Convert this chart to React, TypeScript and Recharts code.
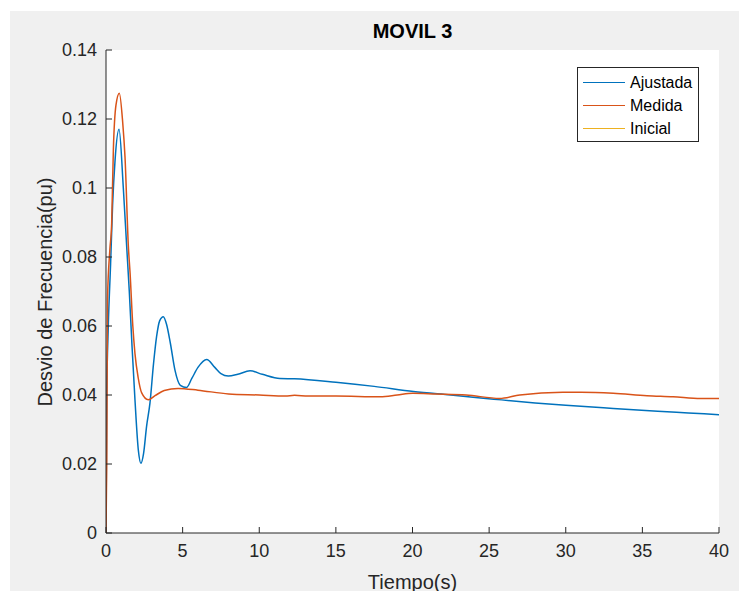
import React from "react";
import { LineChart, Line, XAxis, YAxis, CartesianGrid } from "recharts";

// ---- data ----
const TITLE = "MOVIL 3";
const X_LABEL = "Tiempo(s)";
const Y_LABEL = "Desvio de Frecuencia(pu)";
const X_TICKS = [0, 5, 10, 15, 20, 25, 30, 35, 40];
const Y_TICKS = [0, 0.02, 0.04, 0.06, 0.08, 0.1, 0.12, 0.14];

const SERIES_NAMES = ["Ajustada", "Medida", "Inicial"];
const SERIES_COLORS = ["#0072BD", "#D95319", "#EDB120"];

const TIME_AJUSTADA = [
  0, 0.05, 0.15, 0.3, 0.43, 0.59, 0.85, 1.13, 1.35, 1.52, 1.7, 1.89, 2.11, 2.28,
  2.45, 2.65, 2.87, 3.1, 3.3, 3.5, 3.74, 3.95, 4.2, 4.5, 4.85, 5.26, 5.6, 6.0,
  6.57, 7.1, 7.5, 7.98, 8.6, 9.4, 10.2, 11.35, 12.3, 15, 17.5, 20.06, 22.5,
  25.3, 28, 30, 33.1, 36, 38, 40,
];
const AJUSTADA = [
  0, 0.04, 0.06, 0.078, 0.095, 0.108, 0.117, 0.1, 0.083, 0.07, 0.054, 0.0386,
  0.024, 0.0202, 0.023, 0.031, 0.0377, 0.049, 0.0569, 0.0615, 0.0627, 0.0605,
  0.055, 0.0472, 0.0428, 0.0422, 0.0448, 0.048, 0.0503, 0.048, 0.0462, 0.0455,
  0.046, 0.047, 0.046, 0.0448, 0.0447, 0.0437, 0.0425, 0.041, 0.04, 0.0388,
  0.0377, 0.037, 0.0361, 0.0353, 0.0348, 0.0343,
];

const TIME_MEDIDA = [
  0, 0.05, 0.1, 0.25, 0.37, 0.48, 0.65, 0.87, 1.09, 1.24, 1.46, 1.57, 1.75,
  1.89, 2.1, 2.33, 2.76, 3.2, 3.8, 4.7, 6, 8, 10, 11.7, 12.3, 13.2, 15, 17.9,
  19, 20, 21.5, 23.5, 25.7, 27, 29.8, 31, 33.1, 35.3, 37, 38.8, 40,
];
const MEDIDA = [
  0, 0.021, 0.068, 0.082, 0.0898, 0.111, 0.124, 0.1275, 0.119, 0.109, 0.083,
  0.0754, 0.06, 0.052, 0.045, 0.0406, 0.0386, 0.0398, 0.0413, 0.0419, 0.0414,
  0.0403, 0.04, 0.0397, 0.0399, 0.0397, 0.0397, 0.0395, 0.04, 0.0405, 0.0403,
  0.04, 0.039, 0.04, 0.0408, 0.0408, 0.0405, 0.0398, 0.0395, 0.039, 0.039,
];

const TIME_INICIAL: number[] = [];
const INICIAL: number[] = [];

// ---- layout ----
const W = 739;
const H = 591;
const PLOT_LEFT = 106;
const PLOT_RIGHT = 719;
const PLOT_TOP = 50;
const PLOT_BOTTOM = 533;
const FONT = "'Liberation Sans', Arial, Helvetica, sans-serif";
const AXIS_COLOR = "#262626";

const toRows = (ts: number[], vs: number[]) => ts.map((t, i) => ({ t, v: vs[i] }));
const seriesData = [
  toRows(TIME_AJUSTADA, AJUSTADA),
  toRows(TIME_MEDIDA, MEDIDA),
  toRows(TIME_INICIAL, INICIAL),
];

const fmtY = (v: number) => String(Number(v.toFixed(2)));

const BottomTick = (props: any) => {
  const { x, y, payload } = props;
  return (
    <g>
      <line x1={x} x2={x} y1={y} y2={y - 6} stroke={AXIS_COLOR} strokeWidth={1} />
      <text x={x} y={y + 24} textAnchor="middle" fontSize={18} fontFamily={FONT} fill={AXIS_COLOR}>
        {payload.value}
      </text>
    </g>
  );
};
const TopTick = (props: any) => {
  const { x, y } = props;
  return <line x1={x} x2={x} y1={y} y2={y + 6} stroke={AXIS_COLOR} strokeWidth={1} />;
};
const LeftTick = (props: any) => {
  const { x, y, payload } = props;
  return (
    <g>
      <line x1={x} x2={x + 6} y1={y} y2={y} stroke={AXIS_COLOR} strokeWidth={1} />
      <text x={x - 9} y={y + 6} textAnchor="end" fontSize={18} fontFamily={FONT} fill={AXIS_COLOR}>
        {fmtY(payload.value)}
      </text>
    </g>
  );
};
const RightTick = (props: any) => {
  const { x, y } = props;
  return <line x1={x} x2={x - 6} y1={y} y2={y} stroke={AXIS_COLOR} strokeWidth={1} />;
};

export default function App() {
  return (
    <div style={{ position: "fixed", left: 0, top: 0, width: W, height: H, background: "#ffffff", overflow: "hidden" }}>
      <div style={{ position: "absolute", left: 10, top: 11, right: 0, bottom: 0, background: "#f0f0f0" }} />
      <div style={{ position: "absolute", left: 0, top: 0 }}>
        <LineChart
          width={W}
          height={H}
          margin={{ top: PLOT_TOP, right: W - PLOT_RIGHT, bottom: H - PLOT_BOTTOM - 30, left: PLOT_LEFT - 60 }}
        >
          <CartesianGrid horizontal={false} vertical={false} fill="#ffffff" />
          <XAxis
            xAxisId="main"
            dataKey="t"
            type="number"
            domain={[0, 40]}
            ticks={X_TICKS}
            interval={0}
            allowDataOverflow
            height={30}
            tickSize={0}
            tickMargin={0}
            tickLine={false}
            axisLine={{ stroke: AXIS_COLOR, strokeWidth: 1 }}
            tick={<BottomTick />}
          />
          <XAxis
            xAxisId="top"
            orientation="top"
            dataKey="t"
            type="number"
            domain={[0, 40]}
            ticks={X_TICKS}
            interval={0}
            allowDataOverflow
            height={0}
            tickSize={0}
            tickMargin={0}
            tickLine={false}
            axisLine={{ stroke: AXIS_COLOR, strokeWidth: 1 }}
            tick={<TopTick />}
          />
          <YAxis
            yAxisId="main"
            type="number"
            domain={[0, 0.14]}
            ticks={Y_TICKS}
            interval={0}
            allowDataOverflow
            width={60}
            tickSize={0}
            tickMargin={0}
            tickLine={false}
            axisLine={{ stroke: AXIS_COLOR, strokeWidth: 1 }}
            tick={<LeftTick />}
          />
          <YAxis
            yAxisId="right"
            orientation="right"
            type="number"
            domain={[0, 0.14]}
            ticks={Y_TICKS}
            interval={0}
            allowDataOverflow
            width={0}
            tickSize={0}
            tickMargin={0}
            tickLine={false}
            axisLine={{ stroke: AXIS_COLOR, strokeWidth: 1 }}
            tick={<RightTick />}
          />
          {SERIES_NAMES.map((name, i) => (
            <Line
              key={name}
              name={name}
              xAxisId="main"
              yAxisId="main"
              data={seriesData[i]}
              dataKey="v"
              type="monotone"
              stroke={SERIES_COLORS[i]}
              strokeWidth={1.5}
              dot={false}
              activeDot={false}
              isAnimationActive={false}
            />
          ))}
        </LineChart>
      </div>
      {/* title */}
      <div
        style={{
          position: "absolute",
          left: PLOT_LEFT,
          width: PLOT_RIGHT - PLOT_LEFT,
          top: 20,
          textAlign: "center",
          fontFamily: FONT,
          fontWeight: "bold",
          fontSize: 20,
          lineHeight: "22px",
          color: "#000",
        }}
      >
        {TITLE}
      </div>
      {/* x label */}
      <div
        style={{
          position: "absolute",
          left: PLOT_LEFT,
          width: PLOT_RIGHT - PLOT_LEFT,
          top: 570,
          textAlign: "center",
          fontFamily: FONT,
          fontSize: 20,
          lineHeight: "24px",
          color: AXIS_COLOR,
        }}
      >
        {X_LABEL}
      </div>
      {/* y label */}
      <div
        style={{
          position: "absolute",
          left: 45,
          top: (PLOT_TOP + PLOT_BOTTOM) / 2,
          transform: "translate(-50%, -50%) rotate(-90deg)",
          whiteSpace: "nowrap",
          fontFamily: FONT,
          fontSize: 20,
          lineHeight: "24px",
          color: AXIS_COLOR,
        }}
      >
        {Y_LABEL}
      </div>
      {/* legend */}
      <div
        style={{
          position: "absolute",
          left: 577,
          top: 67,
          width: 122,
          height: 75,
          border: "1px solid #262626",
          background: "#ffffff",
          boxSizing: "border-box",
          paddingTop: 3,
        }}
      >
        {SERIES_NAMES.map((name, i) => (
          <div key={name} style={{ display: "flex", alignItems: "center", height: 23 }}>
            <div style={{ marginLeft: 5, width: 42, height: 0, borderTop: `1.5px solid ${SERIES_COLORS[i]}` }} />
            <span style={{ marginLeft: 5, fontFamily: FONT, fontSize: 16, color: "#000" }}>{name}</span>
          </div>
        ))}
      </div>
    </div>
  );
}
